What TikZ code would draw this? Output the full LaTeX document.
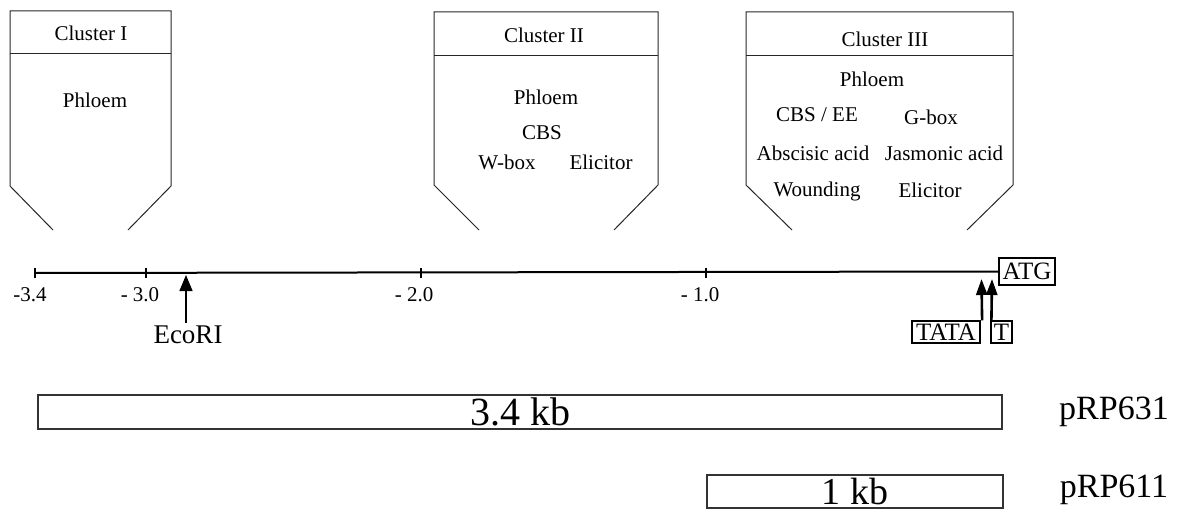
\documentclass[tikz,border=0pt]{standalone}
\usepackage{fontspec}
\setmainfont{Liberation Serif}
\usetikzlibrary{arrows.meta}

\newcommand\fsz[1]{\fontsize{#1pt}{#1pt}\selectfont}
% frame of one cluster: left, right, top, header line, end of sides, lower-left, lower-right x
\newcommand\ClusterFrame[7]{%
  \draw[frame] (#6,230) -- (#1,#5) -- (#1,#3) -- (#2,#3) -- (#2,#5) -- (#7,230);
  \draw[frame] (#1,#4) -- (#2,#4);
}

\tikzset{
  frame/.style={line width=1pt, black!85},
  ctext/.style={font=\fsz{21}, inner sep=0pt},
  ticklab/.style={font=\fsz{21}, inner sep=0pt},
  axisline/.style={line width=2pt},
  tickmark/.style={line width=1.3pt},
  siteline/.style={line width=1.3pt, -{Triangle[width=13pt,length=16pt]}},
  boxline/.style={line width=2.6pt, -{Triangle[width=11pt,length=16pt]}},
  tagbox/.style={draw, line width=1.2pt, font=\fsz{25}, inner sep=0pt, minimum height=22pt},
  clone/.style={draw, line width=1.4pt, black!80, inner sep=0pt, text=black},
  plasmid/.style={font=\fsz{34}, inner sep=0pt},
}

\begin{document}
\begin{tikzpicture}[x=1pt, y=-1pt]
\useasboundingbox (0,0) rectangle (1181,511);

% ---- cluster I ----
\ClusterFrame{10}{171}{11}{54}{186}{53}{128}
\node[ctext] (c1h) at (91,33) {Cluster I};
\node[ctext] (c1a) at (95,100) {Phloem};

% ---- cluster II ----
\ClusterFrame{434}{658}{12}{56}{185}{479}{614}
\node[ctext] (c2h) at (544,35) {Cluster II};
\node[ctext] (c2a) at (546,97) {Phloem};
\node[ctext] (c2b) at (542,133) {CBS};
\node[ctext] (c2c) at (507,162) {W-box};
\node[ctext] (c2d) at (601,162) {Elicitor};

% ---- cluster III ----
\ClusterFrame{746}{1013}{12}{56}{185}{792}{967}
\node[ctext] (c3h) at (885,39) {Cluster III};
\node[ctext] (c3a) at (872,79) {Phloem};
\node[ctext] (c3b) at (817,115) {CBS / EE};
\node[ctext] (c3c) at (931,117) {G-box};
\node[ctext] (c3d) at (813,153) {Abscisic acid};
\node[ctext] (c3e) at (944,153) {Jasmonic acid};
\node[ctext] (c3f) at (817,191) {Wounding};
\node[ctext] (c3g) at (930,190) {Elicitor};

% ---- promoter axis ----
\node[tagbox, minimum width=56pt, minimum height=27pt] (atg) at (1027,271.5) {ATG};
\coordinate (a0) at (35,273);
\draw[axisline] (a0) -- (atg.west);
\foreach \x/\n in {35/t1, 146/t2, 421/t3, 706/t4}{
  \coordinate (\n) at (\x,273);
  \draw[tickmark] ([yshift=-5pt]\n) -- ([yshift=5pt]\n);
}
\node[ticklab] (l1) at (30,295) {-3.4};
\node[ticklab] (l2) at (140,295) {- 3.0};
\node[ticklab] (l3) at (414,295) {- 2.0};
\node[ticklab] (l4) at (700,295) {- 1.0};

% restriction site
\node[font=\fsz{27}, inner sep=0pt] (eco) at (188,335) {EcoRI};
\coordinate (ecoS) at (186,275);
\draw[siteline] (186,323) -- (ecoS);

% TATA box and transcription start
\node[tagbox, minimum width=68pt] (tata) at (946,332) {TATA};
\node[tagbox, minimum width=21pt] (tss) at (1001.5,332) {T};
\coordinate (tataS) at (981.5,279);
\coordinate (tssS) at (992,279);
\draw[boxline] (tata.north east) ++(1.5pt,0) -- (tataS);
\draw[boxline] (tss.north west) ++(1pt,0) -- (tssS);

% ---- clones ----
\node[clone, minimum width=964pt, minimum height=34pt, font=\fsz{40}] (k34) at (520,412) {3.4 kb};
\node[clone, minimum width=296pt, minimum height=33pt, font=\fsz{38}] (k1) at (855,491.5) {1 kb};
\node[plasmid] (p631) at (1114,412) {pRP631};
\node[plasmid] (p611) at (1114,490) {pRP611};
\end{tikzpicture}
\end{document}
